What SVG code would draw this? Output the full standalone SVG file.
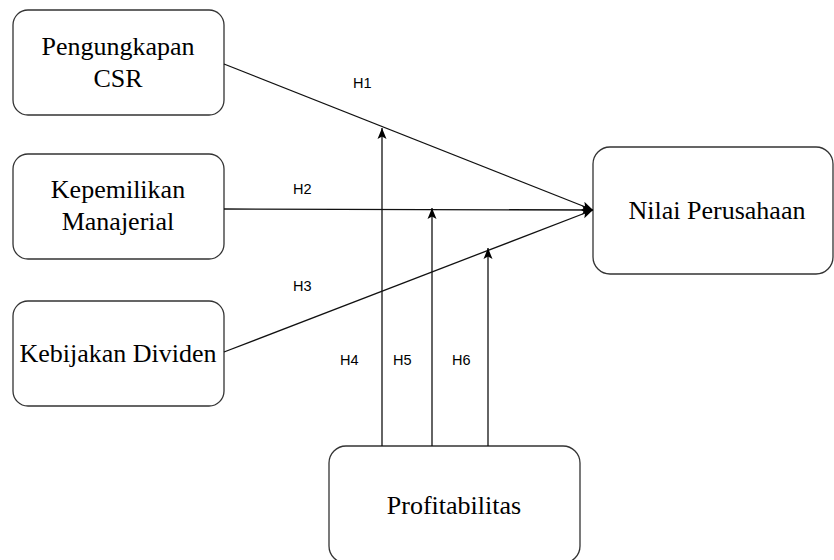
<svg xmlns="http://www.w3.org/2000/svg" width="834" height="560" viewBox="0 0 834 560">
<defs>
<style>
.box{fill:#fff;stroke:#333;stroke-width:1.3}
.t{font-family:"Liberation Serif","Times New Roman",serif;font-size:26px;fill:#000;text-anchor:middle}
.h{font-family:"Liberation Sans",Arial,sans-serif;font-size:14.5px;fill:#000}
.c{fill:none;stroke:#111;stroke-width:1.3}
</style>
<marker id="arr" markerUnits="userSpaceOnUse" markerWidth="12" markerHeight="10" viewBox="0 0 12 10" refX="11" refY="5" orient="auto">
<path d="M0,0.5 L11,5 L0,9.5 L2.5,5 Z" fill="#000"/>
</marker>
</defs>
<rect width="834" height="560" fill="#fff"/>
<g id="n-csr"><rect class="box" x="13" y="10" width="211" height="105" rx="15"/><text class="t" x="118" y="55">Pengungkapan</text><text class="t" x="118" y="87">CSR</text></g>
<g id="n-km"><rect class="box" x="13" y="154" width="211" height="105" rx="15"/><text class="t" x="118" y="198">Kepemilikan</text><text class="t" x="118" y="230">Manajerial</text></g>
<g id="n-kd"><rect class="box" x="13" y="301" width="211" height="105" rx="15"/><text class="t" x="118" y="362">Kebijakan Dividen</text></g>
<g id="n-nilai"><rect class="box" x="593" y="147" width="240" height="127" rx="17"/><text class="t" x="717" y="219">Nilai Perusahaan</text></g>
<g id="n-prof"><rect class="box" x="329" y="446" width="251" height="117" rx="17"/><text class="t" x="454" y="514">Profitabilitas</text></g>
<g id="connectors">
<line class="c" x1="224" y1="64" x2="593" y2="210" marker-end="url(#arr)"/>
<line class="c" x1="224" y1="209" x2="593" y2="210" marker-end="url(#arr)"/>
<line class="c" x1="224" y1="352" x2="593" y2="210" marker-end="url(#arr)"/>
<line class="c" x1="382" y1="446" x2="382" y2="128" marker-end="url(#arr)"/>
<line class="c" x1="432" y1="446" x2="432" y2="208" marker-end="url(#arr)"/>
<line class="c" x1="488" y1="446" x2="488" y2="248" marker-end="url(#arr)"/>
<text class="h" x="353" y="88">H1</text>
<text class="h" x="293" y="194">H2</text>
<text class="h" x="293" y="291">H3</text>
<text class="h" x="340" y="365">H4</text>
<text class="h" x="393" y="365">H5</text>
<text class="h" x="452" y="365">H6</text>
</g>
</svg>
